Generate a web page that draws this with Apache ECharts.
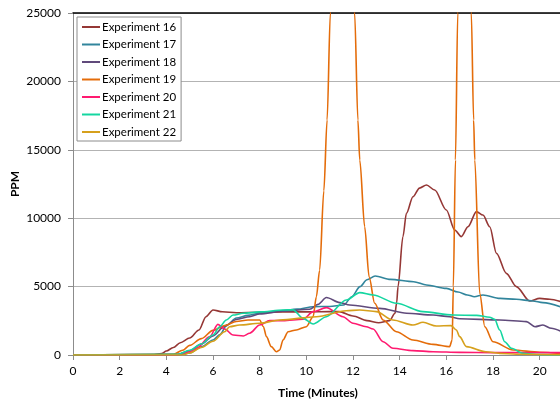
<!DOCTYPE html>
<html>
<head>
<meta charset="utf-8">
<script src="https://cdn.jsdelivr.net/npm/echarts@6/dist/echarts.min.js"></script>
<style>
html,body{margin:0;padding:0;background:#fff;}
#c{width:560px;height:403px;}
</style>
</head>
<body>
<div id="c"></div>
<script>
const seriesNames = ['Experiment 16','Experiment 17','Experiment 18','Experiment 19','Experiment 20','Experiment 21','Experiment 22'];
const colors = ['#953735','#31859c','#604a7b','#e46c0a','#ff1a70','#14d6a0','#d6a01c'];

const t16 = [0, 3.4, 3.8, 4.0, 4.3, 4.6, 5.0, 5.4, 5.7, 6.0, 6.4, 7.0, 8.0, 9.0, 10.0, 11.0, 11.4, 12.0, 12.6, 13.1, 13.57, 13.8, 13.87, 13.93, 14.14, 14.29, 14.57, 14.85, 15.15, 15.5, 16.0, 16.36, 16.64, 16.93, 17.29, 17.57, 17.86, 18.15, 18.57, 19.0, 19.57, 20.0, 20.43, 21.0];
const v16 = [0, 0, 100, 290, 550, 900, 1240, 1830, 2800, 3290, 3160, 3090, 3120, 3150, 3150, 3170, 3170, 2850, 2510, 2360, 2510, 3050, 3800, 5000, 8650, 10360, 11570, 12200, 12430, 12060, 10600, 9140, 8650, 9380, 10480, 10230, 9380, 7430, 5970, 5000, 3950, 4140, 4070, 3850];

const t17 = [0, 4.5, 5.0, 5.5, 6.0, 6.3, 6.6, 7.0, 7.5, 8.0, 8.9, 9.6, 10.3, 11.0, 11.6, 11.95, 12.3, 12.6, 12.95, 13.6, 14.6, 15.15, 16.0, 16.5, 16.9, 17.2, 17.57, 18.3, 19.0, 19.7, 20.14, 21.0];
const v17 = [0, 0, 150, 600, 1100, 1500, 2200, 2700, 2900, 3050, 3240, 3350, 3530, 3550, 3650, 4260, 5000, 5500, 5780, 5530, 5360, 5120, 4870, 4600, 4390, 4260, 4390, 4140, 4070, 3950, 3830, 3450];

const t18 = [0, 4.5, 5.0, 5.5, 6.0, 6.5, 7.0, 7.57, 8.0, 9.0, 10.14, 10.5, 10.86, 11.43, 11.86, 13.14, 14.3, 15.43, 16.14, 16.57, 18.29, 19.43, 19.8, 20.14, 20.5, 21.0];
const v18 = [0, 50, 300, 800, 1400, 2100, 2600, 2800, 3000, 3200, 3340, 3700, 4200, 3830, 3650, 3410, 3050, 2920, 2800, 2650, 2560, 2440, 2070, 2190, 1950, 1650];

const t19 = [0, 4.3, 4.7, 5.0, 5.5, 6.0, 6.5, 7.0, 7.5, 8.0, 8.16, 8.29, 8.5, 8.72, 8.86, 9.0, 9.22, 9.57, 10.0, 10.29, 10.43, 10.57, 10.75, 10.89, 11.03, 11.2, 11.9, 12.07, 12.21, 12.29, 12.5, 12.69, 12.93, 13.29, 13.86, 14.57, 15.43, 16.14, 16.25, 16.3, 16.39, 16.49, 16.6, 17.0, 17.07, 17.17, 17.22, 17.43, 17.65, 18.0, 18.86, 20.0, 21.0];
const v19 = [0, 50, 350, 700, 1200, 1800, 2150, 2450, 2560, 2560, 2070, 1340, 610, 240, 370, 1100, 1700, 1830, 2070, 2800, 4260, 6200, 12000, 17180, 25000, 30000, 30000, 25000, 17180, 14250, 9380, 5720, 3780, 2560, 1700, 1100, 780, 610, 1100, 5000, 14250, 25000, 30000, 30000, 25000, 17180, 14250, 4510, 2070, 970, 370, 200, 100];

const t20 = [0, 4.4, 5.0, 5.3, 5.86, 6.21, 6.5, 6.86, 7.3, 7.57, 8.0, 8.43, 9.0, 9.86, 10.29, 10.86, 11.57, 12.0, 12.57, 12.86, 13.29, 13.71, 14.57, 15.43, 16.57, 18.0, 19.0, 21.0];
const v20 = [0, 0, 250, 500, 1340, 2240, 1900, 1460, 1390, 1590, 2190, 2510, 2510, 2610, 3170, 3460, 2800, 2320, 2070, 1900, 970, 490, 320, 240, 190, 170, 170, 170];

const t21 = [0, 4.5, 5.0, 5.5, 6.0, 6.29, 6.57, 6.86, 7.29, 8.0, 9.0, 9.43, 9.86, 10.29, 10.86, 11.71, 12.29, 12.86, 13.86, 15.0, 16.29, 17.3, 17.86, 18.07, 18.29, 18.5, 18.79, 19.29, 20.0, 21.0];
const v21 = [0, 50, 350, 800, 1460, 2070, 2560, 2920, 3050, 3150, 3290, 3300, 2680, 2270, 2800, 4020, 4560, 4390, 3780, 3170, 2920, 2900, 2760, 2610, 1830, 970, 490, 120, 30, 0];

const t22 = [0, 4.7, 5.0, 5.5, 6.0, 6.5, 6.71, 7.14, 8.0, 8.86, 10.43, 11.71, 12.29, 13.0, 13.71, 14.57, 15.0, 15.57, 16.2, 16.43, 16.57, 16.86, 17.7, 18.29, 19.0, 21.0];
const v22 = [0, 0, 150, 550, 1000, 1700, 2070, 2190, 2320, 2560, 2800, 3240, 3290, 3170, 2560, 2190, 2390, 2120, 2150, 1830, 1340, 610, 240, 120, 60, 20];

const xTicks = {min: 0, max: 21, interval: 2};
const yTicks = {min: 0, max: 25000, interval: 5000};

const allT = [t16, t17, t18, t19, t20, t21, t22];
const allV = [v16, v17, v18, v19, v20, v21, v22];

const FONT = 'Lato, "Open Sans", sans-serif';

const series = seriesNames.map((name, i) => ({
  name: name,
  type: 'line',
  data: allT[i].map((t, j) => [t, allV[i][j]]),
  symbol: 'none',
  smooth: 0.3,
  smoothMonotone: 'x',
  clip: true,
  lineStyle: {width: 1.6, color: colors[i]},
  itemStyle: {color: colors[i]},
  z: 2 + i
}));

const chart = echarts.init(document.getElementById('c'), null, {renderer: 'canvas'});
chart.setOption({
  animation: false,
  backgroundColor: '#fff',
  color: colors,
  grid: {left: 73, top: 13, right: -3, bottom: 48, containLabel: false, outerBoundsMode: 'none'},
  legend: {
    orient: 'vertical',
    left: 77, top: 17,
    data: seriesNames,
    icon: 'rect',
    backgroundColor: '#fff',
    borderColor: '#8c8c8c',
    borderWidth: 1,
    borderRadius: 0,
    padding: [3, 5, 2, 5],
    itemGap: 3.5,
    itemWidth: 18,
    itemHeight: 2,
    textStyle: {fontFamily: FONT, fontSize: 11.5, lineHeight: 14, color: '#000', padding: [0, 0, 0, -3]}
  },
  xAxis: [{
    type: 'value',
    min: xTicks.min, max: xTicks.max, interval: xTicks.interval,
    name: 'Time (Minutes)',
    nameLocation: 'middle',
    nameGap: 32,
    nameMoveOverlap: false,
    nameTextStyle: {fontFamily: FONT, fontSize: 12, fontWeight: 'bold', color: '#000'},
    axisLine: {show: true, onZero: false, lineStyle: {color: '#8c8c8c', width: 1}},
    axisTick: {show: true, length: 5, inside: false, lineStyle: {color: '#8c8c8c'}},
    axisLabel: {fontFamily: FONT, fontSize: 12, color: '#000', margin: 10, showMaxLabel: false},
    splitLine: {show: false}
  }, {
    type: 'value',
    position: 'top',
    min: xTicks.min, max: xTicks.max,
    axisLine: {show: true, onZero: false, lineStyle: {color: '#000', width: 1.5}},
    axisTick: {show: false},
    axisLabel: {show: false},
    splitLine: {show: false}
  }],
  yAxis: {
    type: 'value',
    min: yTicks.min, max: yTicks.max, interval: yTicks.interval,
    name: 'PPM',
    nameLocation: 'middle',
    nameGap: 52,
    nameMoveOverlap: false,
    nameRotate: 90,
    nameTextStyle: {fontFamily: FONT, fontSize: 12, fontWeight: 'bold', color: '#000'},
    axisLine: {show: true, lineStyle: {color: '#8c8c8c', width: 1}},
    axisTick: {show: true, length: 5, lineStyle: {color: '#8c8c8c'}},
    axisLabel: {fontFamily: FONT, fontSize: 12, color: '#000', margin: 12, formatter: v => String(v)},
    splitLine: {show: true, lineStyle: {color: '#b3b3b3', width: 1}}
  },
  series: series
});
</script>
</body>
</html>
